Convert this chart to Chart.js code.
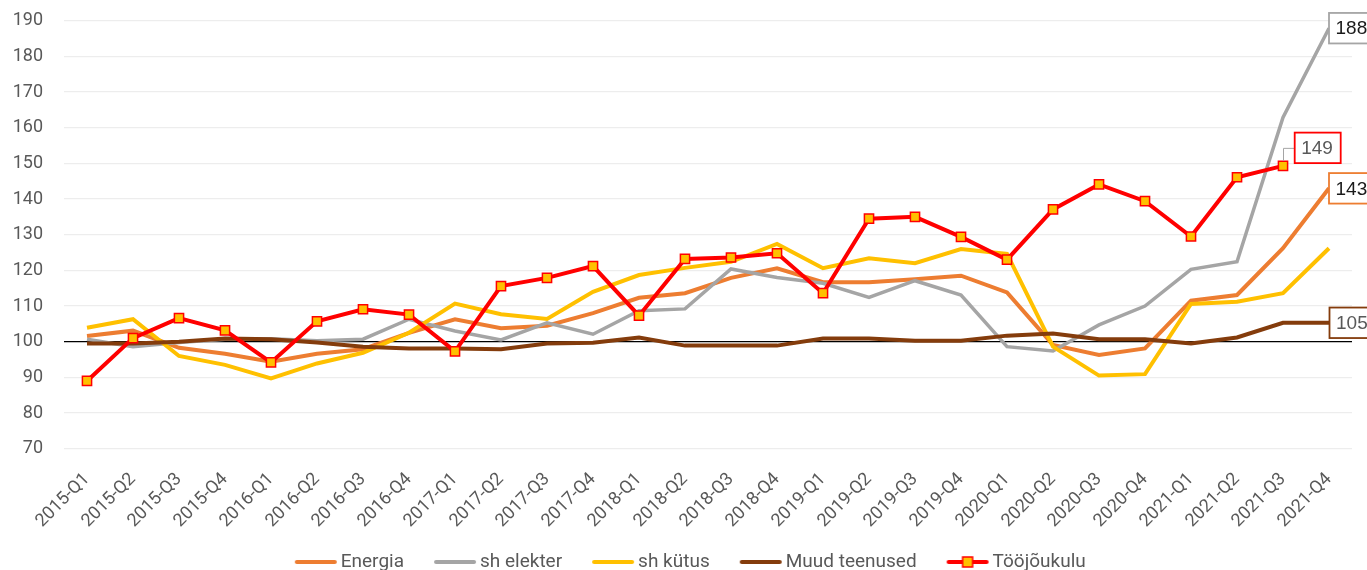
<!DOCTYPE html>
<html><head><meta charset="utf-8">
<script src="https://cdn.jsdelivr.net/npm/chart.js@4.4.1/dist/chart.umd.min.js"></script>
<style>html,body{margin:0;padding:0;background:#fff;overflow:hidden;}</style>
</head><body>
<canvas id="c" width="1367" height="570"></canvas>
<script>
const categories = ['2015-Q1','2015-Q2','2015-Q3','2015-Q4','2016-Q1','2016-Q2','2016-Q3','2016-Q4',
  '2017-Q1','2017-Q2','2017-Q3','2017-Q4','2018-Q1','2018-Q2','2018-Q3','2018-Q4',
  '2019-Q1','2019-Q2','2019-Q3','2019-Q4','2020-Q1','2020-Q2','2020-Q3','2020-Q4',
  '2021-Q1','2021-Q2','2021-Q3','2021-Q4'];
const energia = [101.6,103.1,98.3,96.6, 94.4,96.6,97.9,102.5, 106.3,103.8,104.5,108.0, 112.3,113.6,117.9,120.6, 116.7,116.7,117.5,118.5, 113.8,99.1,96.3,98.1, 111.5,113.1,126.2,143.0];
const shElekter = [100.7,98.6,99.8,100.7, 100.8,100.3,100.7,106.3, 103.0,100.5,105.3,102.1, 108.7,109.2,120.4,118.0, 116.4,112.4,117.1,113.1, 98.6,97.4,104.7,110.0, 120.3,122.4,162.9,187.9];
const shKytus = [103.9,106.3,96.0,93.5, 89.7,93.9,96.9,102.5, 110.7,107.7,106.4,114.0, 118.7,120.7,122.4,127.4, 120.6,123.4,122.0,126.0, 124.6,98.6,90.5,90.9, 110.6,111.2,113.6,126.2];
const muudTeenused = [99.5,99.5,100.0,100.9, 100.7,99.8,98.6,98.1, 98.1,97.9,99.5,99.7, 101.2,98.9,98.9,98.9, 100.9,100.9,100.3,100.3, 101.7,102.3,100.7,100.7, 99.5,101.2,105.3,105.3];
const toojoukulu = [89.0,101.0,106.6,103.2, 94.2,105.7,109.1,107.6, 97.3,115.6,117.9,121.2, 107.3,123.2,123.6,124.8, 113.6,134.5,135.0,129.4, 123.0,137.1,144.1,139.4, 129.5,146.1,149.3,null];
const seriesNames = ['Energia','sh elekter','sh kütus','Muud teenused','Tööjõukulu'];
const yTicks = [70,80,90,100,110,120,130,140,150,160,170,180,190];

const colors = ['#ED7D31','#A5A5A5','#FFC000','#843C0C','#FF0000'];
const markerFill = '#FFC000';

function legendImg(color, marker) {
  const c = document.createElement('canvas');
  c.width = 80; c.height = 14;
  const g = c.getContext('2d');
  g.strokeStyle = color; g.lineWidth = 4; g.lineCap = 'round';
  g.beginPath(); g.moveTo(38, 7); g.lineTo(76, 7); g.stroke();
  if (marker) {
    g.fillStyle = markerFill; g.fillRect(52, 2, 10, 10);
    g.strokeStyle = '#FF0000'; g.lineWidth = 1.5; g.strokeRect(52, 2, 10, 10);
  }
  return c;
}
const legendImgs = colors.map((c, i) => legendImg(c, i === 4));

const endLabels = {
  id: 'endLabels',
  afterDatasetsDraw(chart, args, opts) {
    const ctx = chart.ctx;
    ctx.save();
    opts.items.forEach(it => {
      const data = chart.data.datasets[it.dataset].data;
      let idx = data.length - 1;
      while (data[idx] == null) idx--;
      const pt = chart.getDatasetMeta(it.dataset).data[idx];
      const cy = pt.y + it.dy;
      const bx = pt.x + it.dx;
      const w = 46, h = 30.5;
      if (it.leader) {
        ctx.strokeStyle = '#A5A5A5'; ctx.lineWidth = 1;
        ctx.beginPath();
        ctx.moveTo(pt.x + 0.5, pt.y - 5);
        ctx.lineTo(pt.x + 0.5, cy + 0.5);
        ctx.lineTo(bx, cy + 0.5);
        ctx.stroke();
      }
      ctx.fillStyle = '#ffffff';
      ctx.fillRect(bx, cy - h / 2, w, h);
      ctx.strokeStyle = it.border; ctx.lineWidth = 1.8;
      ctx.strokeRect(bx, cy - h / 2, w, h);
      ctx.fillStyle = it.text;
      ctx.font = '19px "Liberation Sans", Arial, sans-serif';
      ctx.textAlign = 'left'; ctx.textBaseline = 'middle';
      ctx.fillText(String(Math.round(data[idx])), bx + 6.5, cy + 1);
    });
    ctx.restore();
  }
};

const seriesData = [energia, shElekter, shKytus, muudTeenused, toojoukulu];
const datasets = seriesData.map((d, i) => ({
  label: seriesNames[i],
  data: d,
  borderColor: colors[i],
  backgroundColor: colors[i],
  borderWidth: i === 1 ? 3.5 : 4,
  tension: 0,
  pointRadius: i === 4 ? 6.5 : 0,
  pointHoverRadius: i === 4 ? 6.5 : 0,
  pointStyle: 'rect',
  pointBackgroundColor: markerFill,
  pointBorderColor: '#FF0000',
  pointBorderWidth: 1.5,
  order: 5 - i,
  spanGaps: false
}));

new Chart(document.getElementById('c'), {
  type: 'line',
  data: { labels: categories, datasets },
  options: {
    responsive: false,
    devicePixelRatio: 1,
    animation: false,
    events: [],
    layout: { padding: { top: 20.7, right: 15, left: 0, bottom: -11.5 } },
    scales: {
      x: {
        offset: true,
        grid: { display: false, drawTicks: false },
        border: { display: false },
        ticks: {
          autoSkip: false, minRotation: 45, maxRotation: 45, padding: 20,
          color: '#595959', font: { family: 'Roboto', size: 18 }
        },
        afterFit(s) { s.height = 102.3; }
      },
      y: {
        min: 70, max: 190,
        afterBuildTicks(s) { s.ticks = yTicks.map(v => ({ value: v })); },
        grid: {
          drawTicks: false,
          color: c => (c.tick && c.tick.value === 100) ? '#000000' : '#EDEDED',
          lineWidth: 1.3
        },
        border: { display: false },
        ticks: { padding: 21, color: '#595959', font: { family: 'Roboto', size: 18 } },
        afterFit(s) { s.width = 64; s.paddingTop = 0; s.paddingBottom = 0; }
      }
    },
    plugins: {
      tooltip: { enabled: false },
      legend: {
        position: 'bottom',
        labels: {
          usePointStyle: true,
          pointStyleWidth: 65,
          padding: 1.5,
          color: '#595959',
          font: { family: 'Roboto', size: 19 },
          generateLabels(chart) {
            return chart.data.datasets.map((ds, i) => ({
              text: ds.label,
              pointStyle: legendImgs[i],
              fillStyle: 'transparent',
              strokeStyle: 'transparent',
              lineWidth: 0,
              fontColor: '#595959',
              hidden: false,
              datasetIndex: i
            }));
          }
        }
      },
      endLabels: {
        items: [
          { dataset: 1, dx: 0, dy: 0, border: '#A5A5A5', text: '#1A1A1A' },
          { dataset: 4, dx: 11.7, dy: -18, border: '#FF0000', text: '#595959', leader: true },
          { dataset: 0, dx: 0, dy: 0, border: '#ED7D31', text: '#1A1A1A' },
          { dataset: 3, dx: 0.5, dy: 0, border: '#843C0C', text: '#595959' }
        ]
      }
    }
  },
  plugins: [endLabels]
});
</script>
</body></html>
